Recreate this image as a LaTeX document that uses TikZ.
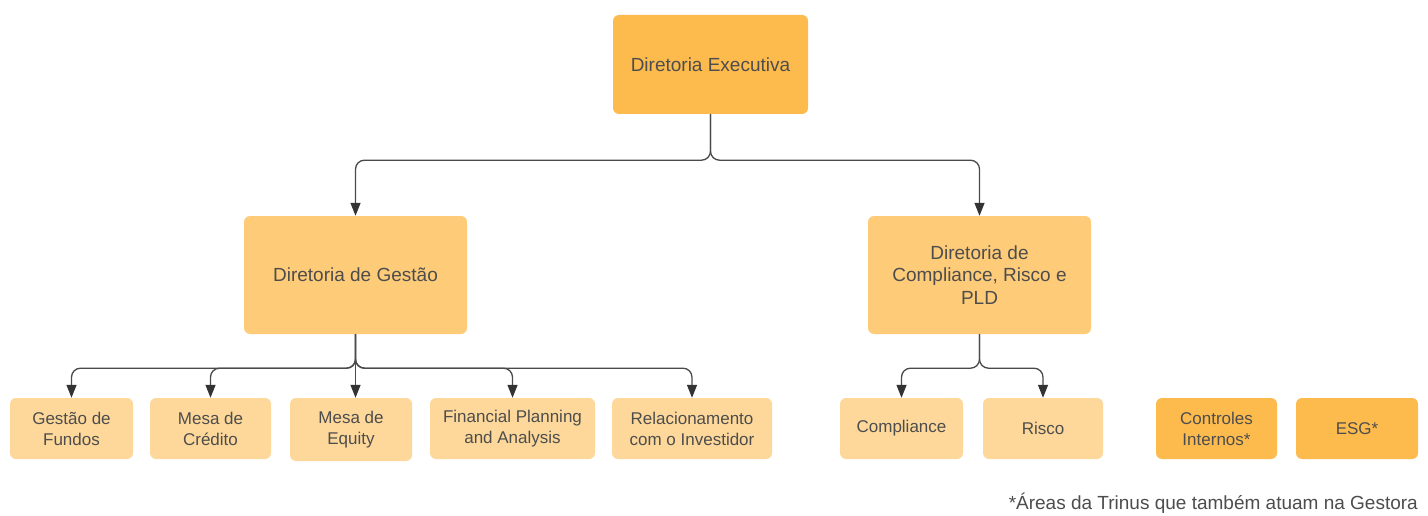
\documentclass[tikz,border=0pt]{standalone}
\usepackage{fontspec}
\setmainfont{Liberation Sans}
\usetikzlibrary{arrows.meta}
\definecolor{darkbox}{HTML}{FDBB4E}
\definecolor{midbox}{HTML}{FECB79}
\definecolor{lightbox}{HTML}{FDD89A}
\definecolor{txt}{HTML}{4D4D4D}
\definecolor{ln}{HTML}{4A4A4A}
\definecolor{tip}{HTML}{333333}
\begin{document}
\begin{tikzpicture}[x=1pt,y=-1pt,
  box/.style={rounded corners=6pt, draw=none, align=center, text=txt, inner sep=0pt},
  bigfont/.style={font=\fontsize{19}{22.5}\selectfont},
  smallfont/.style={font=\fontsize{17}{21}\selectfont},
  notefont/.style={font=\fontsize{19}{22}\selectfont},
  conn/.style={draw=ln, line width=1.3pt, rounded corners=9pt, -{Triangle[length=13pt,width=10pt,color=tip]}},
]
\useasboundingbox[fill=white] (0,0) rectangle (1428,516);

\node[box, bigfont, fill=darkbox, minimum width=195pt, minimum height=99pt] (exec) at (710.5,64.5) {Diretoria Executiva};
\node[box, bigfont, fill=midbox, minimum width=223pt, minimum height=118pt] (gest) at (355.5,275) {Diretoria de Gestão};
\node[box, bigfont, fill=midbox, minimum width=223pt, minimum height=118pt] (comp) at (979.5,275) {Diretoria de\\Compliance, Risco e\\PLD};

\node[box, smallfont, fill=lightbox, minimum width=123pt, minimum height=61pt] (fundos) at (71.5,428.5) {Gestão de\\Fundos};
\node[box, smallfont, fill=lightbox, minimum width=121pt, minimum height=61pt] (credito) at (210.5,428.5) {Mesa de\\Crédito};
\node[box, smallfont, fill=lightbox, minimum width=122pt, minimum height=63pt] (equity) at (351,429.5) {Mesa de\\Equity};
\node[box, smallfont, fill=lightbox, minimum width=165pt, minimum height=61pt] (fpa) at (512.5,428.5) {Financial Planning\\and Analysis};
\node[box, smallfont, fill=lightbox, minimum width=160pt, minimum height=61pt] (ri) at (692,428.5) {Relacionamento\\com o Investidor};
\node[box, smallfont, fill=lightbox, minimum width=123pt, minimum height=61pt] (compl) at (901.5,428.5) {Compliance};
\node[box, smallfont, fill=lightbox, minimum width=120pt, minimum height=61pt] (risco) at (1043,428.5) {Risco};
\node[box, smallfont, fill=darkbox, minimum width=121pt, minimum height=61pt] (ctrl) at (1216.5,428.5) {Controles\\Internos*};
\node[box, smallfont, fill=darkbox, minimum width=122pt, minimum height=61pt] (esg) at (1357,428.5) {ESG*};

\node[anchor=east, notefont, text=txt, inner sep=0pt] (note) at (1418,503) {*Áreas da Trinus que também atuam na Gestora};

\draw[conn] (exec.south) -- ++(0,46) -| (gest.north);
\draw[conn] (exec.south) -- ++(0,46) -| (comp.north);

\draw[conn] (gest.south) -- ++(0,34) -| (fundos.north);
\draw[conn] (gest.south) -- ++(0,34) -| (credito.north);
\draw[conn] (gest.south) -- (gest.south |- equity.north);
\draw[conn] (gest.south) -- ++(0,34) -| (fpa.north);
\draw[conn] (gest.south) -- ++(0,34) -| (ri.north);

\draw[conn] (comp.south) -- ++(0,34) -| (compl.north);
\draw[conn] (comp.south) -- ++(0,34) -| (risco.north);
\end{tikzpicture}
\end{document}
